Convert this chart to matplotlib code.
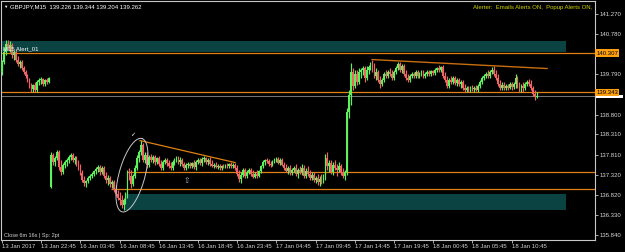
import matplotlib
matplotlib.use("Agg")
import matplotlib.pyplot as plt
import matplotlib.transforms as mtransforms
from matplotlib.patches import Rectangle
import numpy as np

plt.rcParams['font.family'] = ['Liberation Sans', 'DejaVu Sans']

# ---------------- data ----------------
title_text = "GBPJPY,M15  139.226 139.344 139.204 139.262"
alert_text = "Alerter:  Emails Alerts ON,  Popup Alerts ON,"
alert_label = "M15 Alert_01"
status_text = "Close 6m 16s | Sp: 2pt"

opens = [
 139.85,140.09,140.34,140.53,140.46,140.51,140.26,140.34,140.14,140.04,140.09,139.94,139.85,139.75,139.65,139.50,139.43,139.53,139.40,139.60,139.65,139.67,139.55,139.65,139.60,
 137.02,137.81,137.63,137.73,137.88,137.51,137.39,137.56,137.63,137.68,137.76,137.81,137.68,137.73,137.58,137.49,137.36,137.19,137.12,137.17,137.24,137.29,137.34,137.41,137.46,
 137.51,137.39,137.49,137.29,137.19,137.24,137.09,137.14,136.95,136.85,136.75,136.70,136.58,136.70,136.82,137.39,137.29,137.09,137.29,137.49,137.73,137.88,138.05,137.68,137.81,
 137.56,137.76,137.68,137.76,137.63,137.73,137.58,137.49,137.63,137.68,137.61,137.54,137.49,137.63,137.68,137.73,137.63,137.68,137.58,137.49,137.56,137.58,137.54,137.61,137.51,
 137.63,137.68,137.61,137.71,137.73,137.63,137.68,137.58,137.54,137.56,137.51,137.54,137.49,137.54,137.51,137.56,137.54,137.58,137.54,137.56,137.49,137.34,137.22,137.31,137.44,
 137.29,137.39,137.44,137.34,137.27,137.34,137.29,137.41,137.54,137.63,137.68,137.66,137.58,137.56,137.66,137.68,137.71,137.61,137.68,137.56,137.49,137.41,137.49,137.36,137.44,
 137.49,137.34,137.44,137.39,137.49,137.29,137.41,137.34,137.24,137.31,137.19,137.24,137.14,137.22,137.17,137.29,137.73,137.54,137.61,137.39,137.56,137.49,137.44,137.54,137.36,
 137.29,137.39,138.86,139.28,139.85,139.50,139.80,139.60,139.85,139.89,139.94,139.70,139.89,139.97,140.04,139.89,139.75,139.85,139.65,139.55,139.65,139.80,139.75,139.85,139.80,
 139.70,139.85,139.94,140.04,139.89,139.99,139.80,139.70,139.65,139.75,139.80,139.75,139.85,139.75,139.80,139.85,139.75,139.80,139.85,139.80,139.87,139.82,139.89,139.94,139.89,
 139.97,139.75,139.65,139.50,139.65,139.60,139.70,139.58,139.65,139.55,139.60,139.45,139.40,139.45,139.40,139.48,139.43,139.45,139.40,139.50,139.60,139.70,139.75,139.80,139.75,
 139.85,139.89,139.80,139.70,139.55,139.45,139.53,139.45,139.50,139.45,139.55,139.48,139.55,139.70,139.50,139.40,139.50,139.45,139.55,139.60,139.55,139.45,139.30,139.226]
highs = [
 140.14,140.44,140.63,140.63,140.61,140.56,140.39,140.39,140.24,140.14,140.14,139.99,139.89,139.80,139.70,139.58,139.55,139.60,139.65,139.70,139.72,139.70,139.67,139.70,139.72,
 137.88,137.85,137.78,137.93,137.93,137.68,137.61,137.68,137.73,137.81,137.85,137.85,137.78,137.78,137.68,137.58,137.44,137.29,137.19,137.29,137.34,137.39,137.44,137.51,137.56,
 137.56,137.54,137.54,137.39,137.31,137.29,137.19,137.19,137.07,136.95,136.90,136.82,136.75,136.90,137.44,137.49,137.44,137.34,137.56,137.81,137.93,138.17,138.10,137.88,137.88,
 137.81,137.83,137.81,137.81,137.76,137.78,137.68,137.68,137.73,137.73,137.68,137.63,137.68,137.73,137.78,137.78,137.76,137.73,137.63,137.61,137.63,137.63,137.63,137.68,137.68,
 137.73,137.73,137.76,137.78,137.76,137.73,137.76,137.68,137.61,137.63,137.58,137.58,137.56,137.58,137.58,137.61,137.61,137.63,137.61,137.61,137.56,137.44,137.39,137.49,137.49,
 137.44,137.49,137.49,137.44,137.39,137.44,137.44,137.56,137.68,137.71,137.73,137.71,137.66,137.68,137.73,137.76,137.76,137.73,137.73,137.63,137.58,137.54,137.56,137.49,137.54,
 137.58,137.49,137.54,137.58,137.56,137.49,137.54,137.44,137.39,137.39,137.29,137.34,137.29,137.34,137.34,137.83,137.88,137.68,137.68,137.63,137.68,137.58,137.63,137.58,137.49,
 137.44,138.96,139.40,140.07,139.94,139.89,139.89,139.94,139.94,139.99,139.99,139.99,140.02,140.09,140.14,140.07,139.94,139.89,139.75,139.70,139.85,139.89,139.89,139.94,139.89,
 139.89,139.99,140.09,140.09,140.04,140.04,139.89,139.80,139.80,139.85,139.85,139.89,139.89,139.85,139.89,139.89,139.85,139.89,139.89,139.89,139.89,139.94,139.97,140.02,139.99,
 140.02,139.85,139.75,139.70,139.75,139.75,139.75,139.70,139.70,139.65,139.65,139.55,139.50,139.50,139.50,139.53,139.50,139.53,139.55,139.65,139.75,139.80,139.85,139.89,139.89,
 139.97,139.99,139.89,139.80,139.65,139.60,139.60,139.55,139.55,139.60,139.60,139.60,139.80,139.75,139.60,139.55,139.60,139.60,139.65,139.67,139.65,139.50,139.40,139.344]
lows = [
 139.77,140.04,140.26,140.39,140.34,140.19,140.14,140.09,139.99,139.94,139.89,139.80,139.70,139.60,139.45,139.35,139.35,139.35,139.35,139.53,139.55,139.50,139.50,139.55,139.58,
 136.99,137.56,137.54,137.68,137.44,137.31,137.34,137.49,137.54,137.61,137.68,137.63,137.58,137.54,137.44,137.31,137.14,137.04,137.02,137.12,137.19,137.24,137.29,137.34,137.39,
 137.31,137.34,137.24,137.12,137.07,137.02,136.99,136.90,136.80,136.70,136.58,136.50,136.45,136.60,136.75,137.19,136.99,137.04,137.24,137.44,137.63,137.81,137.63,137.61,137.49,
 137.51,137.63,137.61,137.56,137.58,137.54,137.44,137.44,137.58,137.54,137.49,137.44,137.44,137.56,137.63,137.58,137.54,137.54,137.44,137.44,137.49,137.49,137.49,137.46,137.44,
 137.58,137.56,137.54,137.63,137.58,137.56,137.54,137.51,137.49,137.49,137.46,137.44,137.44,137.49,137.49,137.49,137.49,137.49,137.49,137.44,137.29,137.14,137.12,137.27,137.24,
 137.24,137.34,137.29,137.24,137.24,137.24,137.27,137.36,137.49,137.56,137.61,137.54,137.51,137.54,137.61,137.63,137.58,137.56,137.54,137.44,137.39,137.34,137.31,137.31,137.39,
 137.29,137.24,137.34,137.31,137.24,137.24,137.29,137.19,137.19,137.14,137.12,137.07,137.04,137.09,137.12,137.19,137.44,137.39,137.34,137.31,137.44,137.29,137.39,137.31,137.24,
 137.19,137.31,138.71,139.03,139.40,139.45,139.53,139.55,139.70,139.77,139.60,139.65,139.80,139.89,139.85,139.70,139.65,139.60,139.45,139.50,139.60,139.70,139.70,139.75,139.65,
 139.65,139.80,139.89,139.85,139.82,139.75,139.65,139.60,139.60,139.70,139.70,139.70,139.70,139.70,139.75,139.70,139.70,139.75,139.75,139.75,139.77,139.77,139.85,139.85,139.85,
 139.70,139.60,139.45,139.45,139.55,139.55,139.53,139.50,139.50,139.45,139.40,139.35,139.35,139.35,139.35,139.38,139.35,139.38,139.35,139.45,139.55,139.65,139.70,139.70,139.70,
 139.80,139.75,139.65,139.50,139.40,139.40,139.40,139.40,139.40,139.43,139.40,139.43,139.45,139.45,139.35,139.35,139.35,139.40,139.50,139.50,139.40,139.26,139.16,139.204]
closes = [
 140.09,140.34,140.53,140.46,140.51,140.26,140.34,140.14,140.04,140.09,139.94,139.85,139.75,139.65,139.50,139.43,139.53,139.40,139.60,139.65,139.67,139.55,139.65,139.60,139.70,
 137.81,137.63,137.73,137.88,137.51,137.39,137.56,137.63,137.68,137.76,137.81,137.68,137.73,137.58,137.49,137.36,137.19,137.12,137.17,137.24,137.29,137.34,137.41,137.46,137.51,
 137.39,137.49,137.29,137.19,137.24,137.09,137.14,136.95,136.85,136.75,136.70,136.58,136.70,136.82,137.39,137.29,137.09,137.29,137.49,137.73,137.88,138.05,137.68,137.81,137.56,
 137.76,137.68,137.76,137.63,137.73,137.58,137.49,137.63,137.68,137.61,137.54,137.49,137.63,137.68,137.73,137.63,137.68,137.58,137.49,137.56,137.58,137.54,137.61,137.51,137.63,
 137.68,137.61,137.71,137.73,137.63,137.68,137.58,137.54,137.56,137.51,137.54,137.49,137.54,137.51,137.56,137.54,137.58,137.54,137.56,137.49,137.34,137.22,137.31,137.44,137.29,
 137.39,137.44,137.34,137.27,137.34,137.29,137.41,137.54,137.63,137.68,137.66,137.58,137.56,137.66,137.68,137.71,137.61,137.68,137.56,137.49,137.41,137.49,137.36,137.44,137.49,
 137.34,137.44,137.39,137.49,137.29,137.41,137.34,137.24,137.31,137.19,137.24,137.14,137.22,137.17,137.29,137.73,137.54,137.61,137.39,137.56,137.49,137.44,137.54,137.36,137.29,
 137.39,138.86,139.28,139.85,139.50,139.80,139.60,139.85,139.89,139.94,139.70,139.89,139.97,140.04,139.89,139.75,139.85,139.65,139.55,139.65,139.80,139.75,139.85,139.80,139.70,
 139.85,139.94,140.04,139.89,139.99,139.80,139.70,139.65,139.75,139.80,139.75,139.85,139.75,139.80,139.85,139.75,139.80,139.85,139.80,139.87,139.82,139.89,139.94,139.89,139.97,
 139.75,139.65,139.50,139.65,139.60,139.70,139.58,139.65,139.55,139.60,139.45,139.40,139.45,139.40,139.48,139.43,139.45,139.40,139.50,139.60,139.70,139.75,139.80,139.75,139.85,
 139.89,139.80,139.70,139.55,139.45,139.53,139.45,139.50,139.45,139.55,139.48,139.55,139.70,139.50,139.40,139.50,139.45,139.55,139.60,139.55,139.45,139.30,139.226,139.262]

time_label_bars = [0, 20, 40, 60, 80, 100, 120, 140, 160, 180, 200, 220, 240, 260]
time_labels = ["13 Jan 2017", "13 Jan 22:45", "16 Jan 03:45", "16 Jan 08:45", "16 Jan 13:45",
               "16 Jan 18:45", "16 Jan 23:45", "17 Jan 04:45", "17 Jan 09:45", "17 Jan 14:45",
               "17 Jan 19:45", "18 Jan 00:45", "18 Jan 05:45", "18 Jan 10:45"]
price_ticks = [141.270, 140.780, 139.790, 138.800, 138.310, 137.810, 137.320, 136.820, 136.330, 135.840]

level_alert = 140.307
level_mid = 139.343
bid_price = 139.262
level_low1 = 137.38
level_low1_start = 63.8
level_low2 = 136.97
level_low2_start = 55.6
zone_top = (-0.5, 287.8, 140.345, 140.61)
zone_bottom = (62.8, 287.8, 136.45, 136.84)
trend_down_1 = ([70.4, 118.9], [138.16, 137.62])
trend_down_2 = ([188.8, 278.1], [140.15, 139.93])
ellipse_center = (66.3, 137.31)
check_mark_pos = (66.8, 138.30)
arrow_mark_pos = (94.4, 137.17)

# ---------------- styling ----------------
BG = "black"
BULL = "#5CF25C"
BEAR = "#F06464"
ORANGE = "#E08010"
TEAL = "#0B4343"
FG = "#C8C8C8"

W, H = 625, 252
fig = plt.figure(figsize=(W / 100, H / 100), dpi=100, facecolor=BG)
ax = fig.add_axes([1 / W, 12 / H, 594 / W, 239 / H], facecolor=BG)

XMIN, XMAX = -0.51, 302.55
YMIN, YMAX = 135.717, 141.589
ax.set_xlim(XMIN, XMAX)
ax.set_ylim(YMIN, YMAX)

px_per_bar = 594 / (XMAX - XMIN)
px_per_price = 239 / (YMAX - YMIN)

# zones
for (x0, x1, y0, y1) in (zone_top, zone_bottom):
    ax.add_patch(Rectangle((x0, y0), x1 - x0, y1 - y0, facecolor=TEAL, edgecolor="none", zorder=1))

# horizontal levels
ax.axhline(level_alert, color=ORANGE, lw=0.9, zorder=2)
ax.axhline(bid_price, color="#8A8A8A", lw=0.6, zorder=2)
ax.axhline(level_mid, color=ORANGE, lw=0.9, zorder=2)
ax.hlines(level_low1, level_low1_start, XMAX, color=ORANGE, lw=0.9, zorder=2)
ax.hlines(level_low2, level_low2_start, XMAX, color=ORANGE, lw=0.9, zorder=2)

# candles
n = min(len(opens), len(highs), len(lows), len(closes))
idx = np.arange(n)
o = np.array(opens[:n]); h = np.array(highs[:n]); l = np.array(lows[:n]); c = np.array(closes[:n])
colors = np.where(c >= o, BULL, BEAR)
ax.vlines(idx, l, h, colors=colors, lw=0.85, zorder=3)
body_b = np.minimum(o, c)
body_h = np.maximum(np.abs(c - o), 0.015)
ax.bar(idx, body_h, bottom=body_b, width=0.9, color=colors, linewidth=0, zorder=3)

# trend lines
ax.plot(*trend_down_1, color=ORANGE, lw=0.9, zorder=4)
ax.plot(*trend_down_2, color="#C86E10", lw=1.0, zorder=4)

# ellipse (drawn in pixel geometry)
t = np.linspace(0, 2 * np.pi, 200)
a_px, b_px = 38.0, 13.0
maj = np.array([0.261, -0.965])
mnr = np.array([0.965, 0.261])
dx = a_px * np.cos(t) * maj[0] + b_px * np.sin(t) * mnr[0]
dy = a_px * np.cos(t) * maj[1] + b_px * np.sin(t) * mnr[1]
ax.plot(ellipse_center[0] + dx / px_per_bar, ellipse_center[1] - dy / px_per_price,
        color="#C8C8C8", lw=0.7, zorder=5)

ax.text(*check_mark_pos, "\u2713", color="white", fontsize=4.5, ha="center", va="center",
        family=["DejaVu Sans"], zorder=6)
ax.text(*arrow_mark_pos, "\u21e7", color="#A8B8D0", fontsize=5.5, ha="center", va="center",
        family=["DejaVu Sans"], zorder=6)

# axes frame
for s in ax.spines.values():
    s.set_color(FG)
    s.set_linewidth(0.8)

ax.yaxis.tick_right()
ax.set_yticks(price_ticks)
ax.set_yticklabels([f"{p:.3f}" for p in price_ticks])
ax.tick_params(axis="y", colors=FG, labelcolor="#D8D8D8", labelsize=4.3, length=2, width=0.6, pad=1.5)
ax.set_xticks(time_label_bars)
ax.set_xticklabels(time_labels)
ax.tick_params(axis="x", colors=FG, labelcolor="#D0D0D0", labelsize=4.3, length=2, width=0.6, pad=1)
for lab in ax.get_xticklabels():
    lab.set_ha("left")

# price boxes on the right axis
trans = mtransforms.blended_transform_factory(ax.transAxes, ax.transData)
# current bid marker: white box mostly hidden under the orange level label
ax.add_patch(Rectangle((1.002, bid_price - 0.06), 0.045, 0.075, transform=trans,
                       facecolor="white", edgecolor="none", clip_on=False, zorder=7))
for lvl in (level_alert, level_mid):
    ax.text(1.002, lvl, f"{lvl:.3f}", transform=trans, color="black", fontsize=4.3,
            ha="left", va="center", clip_on=False, zorder=8,
            bbox=dict(boxstyle="square,pad=0.2", fc="#FFA010", ec="none"))

# texts
fig.text(3 / W, 1 - 6.5 / H, "\u25bc", color="white", fontsize=3.2, ha="left", va="center")
fig.text(10 / W, 1 - 6.5 / H, title_text, color="white", fontsize=4.3, ha="left", va="center")
fig.text(592 / W, 1 - 7.5 / H, alert_text, color="#D2D200", fontsize=4.3, ha="right", va="center")
fig.text(3 / W, 1 - 49 / H, alert_label, color="white", fontsize=4.3, ha="left", va="center")
fig.text(4 / W, 1 - 235 / H, status_text, color="#D0D0D0", fontsize=4.0, ha="left", va="center")

fig.savefig("out.png", dpi=100, facecolor=BG)
